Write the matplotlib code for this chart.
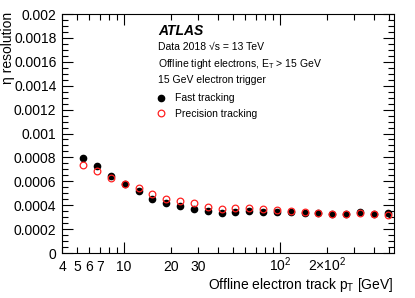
import matplotlib
matplotlib.use("Agg")
import matplotlib.pyplot as plt
from matplotlib.ticker import FixedLocator, FixedFormatter

plt.rcParams['font.family'] = ['Liberation Sans', 'DejaVu Sans']
plt.rcParams['mathtext.fontset'] = 'custom'
plt.rcParams['mathtext.rm'] = 'Liberation Sans'
plt.rcParams['mathtext.it'] = 'Liberation Sans:italic'

# bin centres in offline track pT [GeV]
pt = [5.45, 6.7, 8.25, 10.1, 12.4, 15.2, 18.6, 22.9, 28.0, 34.5, 42.3, 51.9,
      63.3, 77.8, 95.7, 117.5, 144.5, 176.6, 217, 266, 327, 400, 492]
fast = [0.000792, 0.000725, 0.000647, 0.000580, 0.000516, 0.000451, 0.000415,
        0.000390, 0.000368, 0.000349, 0.000337, 0.000345, 0.000349, 0.000345,
        0.000343, 0.000343, 0.000332, 0.000334, 0.000324, 0.000326, 0.000340,
        0.000326, 0.000334]
precision = [0.000738, 0.000686, 0.000630, 0.000575, 0.000540, 0.000490,
             0.000454, 0.000435, 0.000415, 0.000387, 0.000368, 0.000379,
             0.000376, 0.000368, 0.000360, 0.000349, 0.000340, 0.000334,
             0.000324, 0.000326, 0.000338, 0.000326, 0.000315]

fig = plt.figure(figsize=(4.15, 2.98), dpi=100)
ax = fig.add_axes([0.1494, 0.151, 0.8, 0.802])

ax.plot(pt, fast, 'o', color='black', ms=4.5, label='Fast tracking')
ax.plot(pt, precision, 'o', mfc='none', mec='#ff2020', mew=0.9, ms=4.8,
        label='Precision tracking')

ax.set_xscale('log')
ax.set_xlim(4, 540)
ax.set_ylim(0, 0.002)

major_x = [10, 100]
minor_x = [4, 5, 6, 7, 8, 9, 20, 30, 40, 50, 60, 70, 80, 90, 200, 300, 400, 500]
minor_lab = ['4', '5', '6', '7', '', '', '20', '30', '', '', '', '', '', '',
             r'2$\times$10$^{2}$', '', '', '']
ax.xaxis.set_major_locator(FixedLocator(major_x))
ax.xaxis.set_major_formatter(FixedFormatter(['10', r'10$^{2}$']))
ax.xaxis.set_minor_locator(FixedLocator(minor_x))
ax.xaxis.set_minor_formatter(FixedFormatter(minor_lab))

yt = [0, 0.0002, 0.0004, 0.0006, 0.0008, 0.001, 0.0012, 0.0014, 0.0016, 0.0018, 0.002]
ax.set_yticks(yt)
ax.set_yticklabels(['0', '0.0002', '0.0004', '0.0006', '0.0008', '0.001',
                    '0.0012', '0.0014', '0.0016', '0.0018', '0.002'])
ax.yaxis.set_minor_locator(FixedLocator([i * 0.00005 for i in range(41)]))

ax.tick_params(which='both', direction='in', top=True, right=True,
               labelsize=10, width=0.8)
ax.tick_params(which='major', length=8, pad=4)
ax.tick_params(which='minor', length=4, pad=4)
ax.tick_params(axis='x', which='both', pad=13)
for lab in ax.xaxis.get_majorticklabels() + ax.xaxis.get_minorticklabels():
    lab.set_verticalalignment('baseline')

fig.text(8 / 415, 1 - 12 / 298, 'η resolution', rotation=90, ha='center',
         va='top', fontsize=10)
fig.text(394 / 415, 1 - 289 / 298, r'Offline electron track p$_{\mathrm{T}}$ [GeV]',
         ha='right', va='baseline', fontsize=10)

ax.text(0.29, 0.93, 'ATLAS', transform=ax.transAxes, fontsize=10,
        fontweight='bold', fontstyle='italic', va='center')
ax.text(0.29, 0.86, 'Data 2018 √s = 13 TeV', transform=ax.transAxes,
        fontsize=7.5, va='center')
ax.text(0.29, 0.79, r'Offline tight electrons, E$_{\mathrm{T}}$ > 15 GeV',
        transform=ax.transAxes, fontsize=7.5, va='center')
ax.text(0.29, 0.725, '15 GeV electron trigger', transform=ax.transAxes,
        fontsize=7.5, va='center')

ax.legend(loc='upper left', bbox_to_anchor=(0.26, 0.69), frameon=False,
          fontsize=7.5, handletextpad=0.6, labelspacing=0.55, handlelength=1.5,
          borderpad=0)

fig.savefig('out.png', dpi=100)
